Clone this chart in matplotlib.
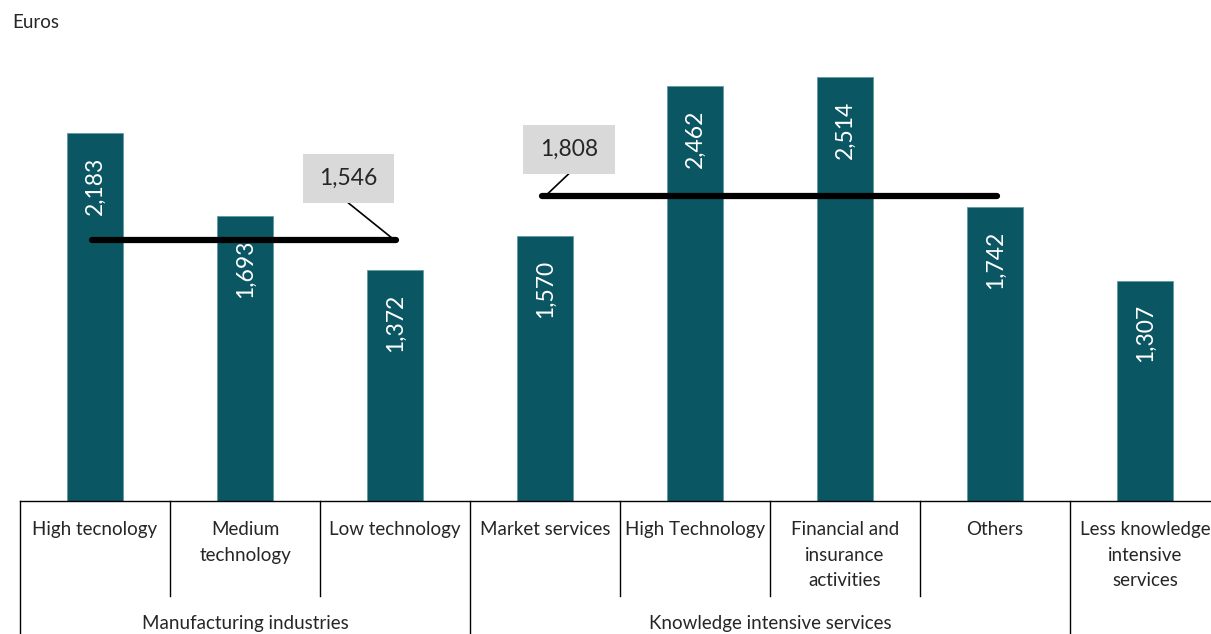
import matplotlib.pyplot as plt
from matplotlib.patches import Rectangle

plt.rcParams['font.family'] = ['Lato', 'DejaVu Sans']

# Data
categories = ['High tecnology', 'Medium\ntechnology', 'Low technology', 'Market services',
              'High Technology', 'Financial and\ninsurance\nactivities', 'Others',
              'Less knowledge\nintensive\nservices']
values = [2183, 1693, 1372, 1570, 2462, 2514, 1742, 1307]
groups = ['Manufacturing industries', 'Knowledge intensive services']
group_spans = [(0, 2), (3, 6)]          # category index ranges for averages
group_avgs = [1546, 1808]

bar_color = '#0b5663'
text_color = '#262626'

W, H = 1211, 634
fig = plt.figure(figsize=(W / 100, H / 100), dpi=100)
ax = fig.add_axes([20 / W, 133 / H, (W - 20) / W, 455 / H])

x = list(range(len(values)))
ax.bar(x, values, width=0.367, color=bar_color, edgecolor='#5f9aa3', linewidth=0.6, zorder=2)

ax.set_xlim(-0.5, (W - 95) / 150)
ax.set_ylim(0, 2700)
for s in ax.spines.values():
    s.set_visible(False)
ax.set_xticks([])
ax.set_yticks([])

# value labels inside bars
for xi, v in zip(x, values):
    ax.annotate(f'{v:,}', xy=(xi, v), xytext=(0, -17), textcoords='offset points',
                rotation=90, ha='center', va='top', color='white', fontsize=16.5, zorder=4)

# average lines with callouts
box_pos = [(1.69, 1913), (3.16, 2088)]
line_end = [(2, 1546), (3, 1808)]
for (a, b), avg, (bx, by), (ex, ey) in zip(group_spans, group_avgs, box_pos, line_end):
    ax.plot([a - 0.02, b + 0.01], [avg, avg], color='black', lw=4.5,
            solid_capstyle='round', zorder=3)
    bw, bh = 0.61, 290
    ax.plot([bx, ex], [by - bh / 2, ey], color='black', lw=1.2, zorder=3)
    ax.add_patch(Rectangle((bx - bw / 2, by - bh / 2), bw, bh, facecolor='#d9d9d9',
                           edgecolor='none', zorder=3))
    ax.text(bx, by, f'{avg:,}', ha='center', va='center', fontsize=16.5,
            color=text_color, zorder=4)

# category table below the axis
tr = ax.get_xaxis_transform()
ax.plot([-0.5, 8], [0, 0], color='black', lw=1, transform=tr, clip_on=False)
inner_depth = -95 / 455
full_depth = -140 / 455
for b in [-0.5, 0.5, 1.5, 2.5, 3.5, 4.5, 5.5, 6.5]:
    depth = full_depth if b in (-0.5, 2.5, 6.5) else inner_depth
    ax.plot([b, b], [0, depth], color='black', lw=1, transform=tr, clip_on=False)

for xi, lab in zip(x, categories):
    ax.text(xi, -20 / 455, lab, transform=tr, ha='center', va='top', fontsize=13.5,
            color=text_color, linespacing=1.62)

for (a, b), g in zip([(-0.5, 2.5), (2.5, 6.5)], groups):
    ax.text((a + b) / 2, -123 / 455, g, transform=tr, ha='center', va='center',
            fontsize=13.5, color=text_color)

fig.text(12 / W, 1 - 22 / H, 'Euros', ha='left', va='center', fontsize=13.5, color=text_color)

fig.savefig('out.png', dpi=100)
